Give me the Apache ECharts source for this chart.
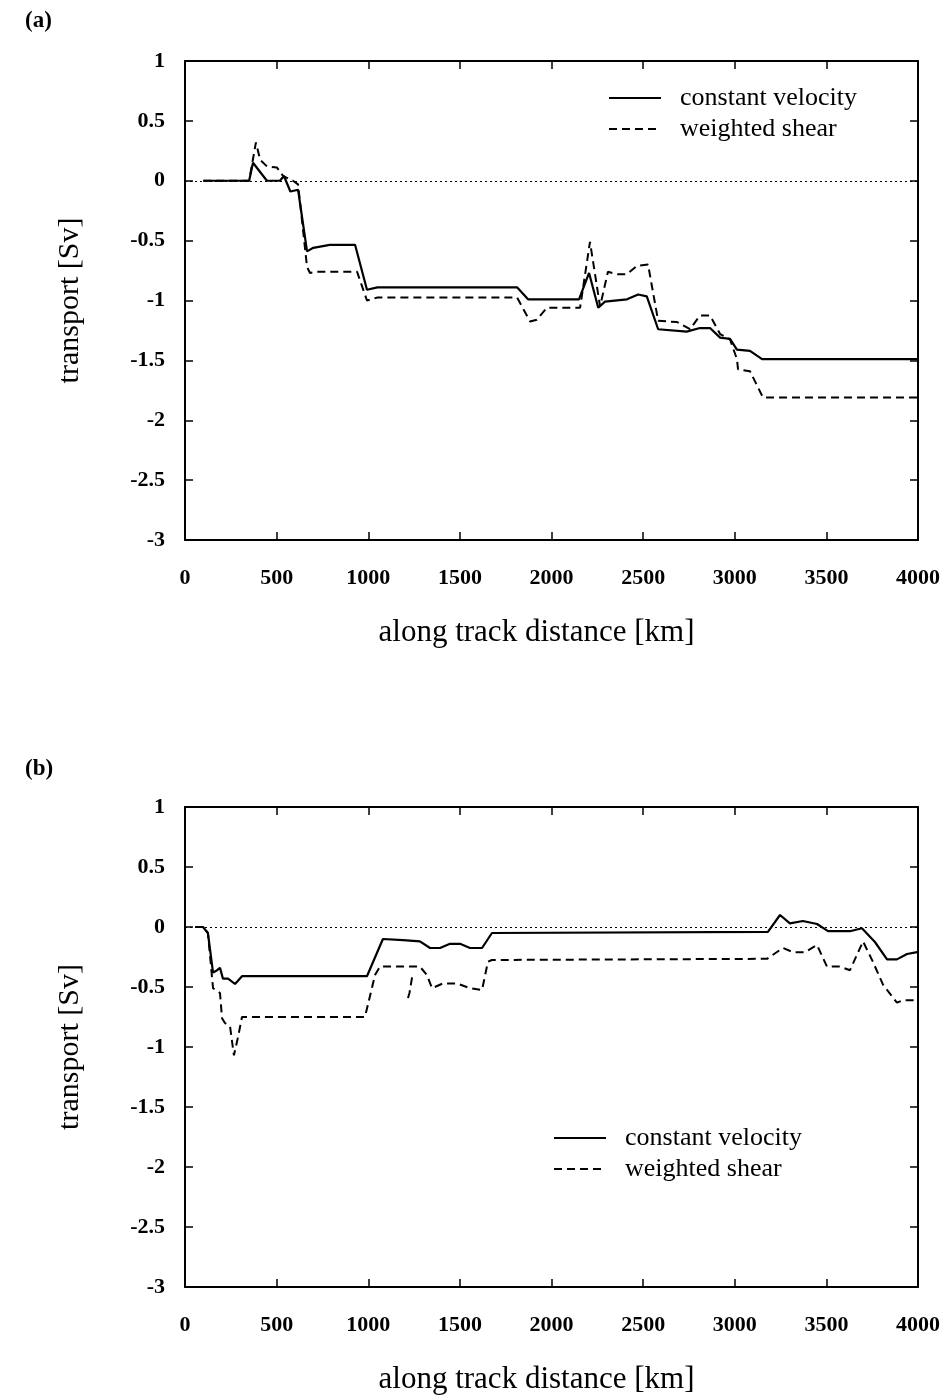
<!DOCTYPE html>
<html><head><meta charset="utf-8">
<script src="https://cdn.jsdelivr.net/npm/echarts@6/dist/echarts.min.js"></script>
<style>html,body{margin:0;padding:0;background:#fff}#c{width:946px;height:1397px}</style>
</head><body><div id="c"></div>
<script>
// ---- data (panel a) ----
const distA_cv = [100, 350, 371, 447, 518, 540, 575, 617, 666, 700, 790, 928, 993, 1050, 1812, 1872, 2150, 2205, 2255, 2292, 2412, 2473, 2520, 2582, 2738, 2810, 2865, 2920, 2974, 3012, 3083, 3149, 4000];
const transA_cv = [0, 0, 0.15, 0.0, 0.0, 0.04, -0.09, -0.075, -0.59, -0.56, -0.535, -0.535, -0.91, -0.89, -0.89, -0.99, -0.99, -0.77, -1.06, -1.01, -0.99, -0.95, -0.965, -1.24, -1.26, -1.23, -1.23, -1.31, -1.32, -1.41, -1.42, -1.49, -1.49];
const distA_ws = [100, 350, 387, 410, 447, 502, 535, 589, 617, 666, 682, 720, 939, 993, 1050, 1812, 1883, 1920, 1975, 2156, 2210, 2265, 2308, 2357, 2412, 2467, 2527, 2582, 2685, 2756, 2810, 2865, 2920, 2974, 3012, 3018, 3083, 3154, 4000];
const transA_ws = [0, 0, 0.32, 0.175, 0.12, 0.11, 0.04, 0.0, -0.03, -0.72, -0.77, -0.76, -0.76, -1.0, -0.975, -0.975, -1.175, -1.16, -1.06, -1.06, -0.51, -1.05, -0.76, -0.78, -0.78, -0.71, -0.70, -1.17, -1.18, -1.24, -1.125, -1.125, -1.28, -1.325, -1.49, -1.575, -1.59, -1.81, -1.81];
// ---- data (panel b) ----
const distB_cv = [55, 98, 125, 153, 175, 191, 207, 235, 273, 311, 993, 1080, 1190, 1282, 1337, 1392, 1446, 1501, 1555, 1621, 1675, 3181, 3247, 3301, 3372, 3449, 3509, 3629, 3694, 3765, 3831, 3885, 3940, 3995];
const transB_cv = [0, 0, -0.05, -0.38, -0.36, -0.34, -0.43, -0.43, -0.475, -0.41, -0.41, -0.10, -0.11, -0.12, -0.175, -0.175, -0.14, -0.14, -0.175, -0.175, -0.05, -0.04, 0.10, 0.03, 0.05, 0.025, -0.035, -0.035, -0.01, -0.125, -0.27, -0.27, -0.225, -0.21];
const distB_ws = [55, 98, 125, 153, 191, 202, 218, 246, 267, 289, 311, 982, 1037, 1064, 1282, 1320, 1348, 1408, 1484, 1555, 1621, 1653, 1675, 3176, 3263, 3318, 3383, 3449, 3503, 3574, 3629, 3700, 3754, 3809, 3885, 3918, 3995];
const transB_ws = [0, 0, -0.05, -0.51, -0.55, -0.76, -0.80, -0.83, -1.07, -0.92, -0.75, -0.75, -0.40, -0.33, -0.33, -0.40, -0.51, -0.47, -0.47, -0.51, -0.525, -0.29, -0.275, -0.265, -0.175, -0.21, -0.21, -0.15, -0.33, -0.33, -0.36, -0.12, -0.29, -0.48, -0.63, -0.61, -0.61];
const distB_frag = [1239, 1225, 1211];
const transB_frag = [-0.42, -0.55, -0.62];
// ---- ticks ----
const xTicks = {min: 0, max: 4000, interval: 500};
const yTicks = {min: -3, max: 1, interval: 0.5};
const seriesNames = ['constant velocity', 'weighted shear'];
const axisTitles = {x: 'along track distance [km]', y: 'transport [Sv]'};
const panelLabels = ['(a)', '(b)'];

const zip = (xs, ys) => xs.map((x, i) => [x, ys[i]]);
const FONT = 'Liberation Serif';
const axLine = {show: true, onZero: false, lineStyle: {color: '#000', width: 2}};
const axTick = {show: true, inside: true, length: 8, lineStyle: {color: '#000', width: 1.5}};
const lbl = {color: '#000', fontFamily: FONT, fontSize: 22, fontWeight: 'bold'};

function xAx(grid, pos, main) {
  return Object.assign({type: 'value', gridIndex: grid, position: pos}, xTicks, {
    axisLine: axLine, axisTick: axTick, splitLine: {show: false},
    axisLabel: main ? Object.assign({margin: 27, formatter: v => String(v)}, lbl) : {show: false},
    name: main ? axisTitles.x : '', nameLocation: 'middle', nameGap: 77,
    nameTextStyle: {color: '#000', fontFamily: FONT, fontSize: 31, padding: [0, 30, 0, 0]}
  });
}
function yAx(grid, pos, main) {
  return Object.assign({type: 'value', gridIndex: grid, position: pos}, yTicks, {
    axisLine: axLine, axisTick: axTick, splitLine: {show: false},
    axisLabel: main ? Object.assign({margin: 20, formatter: v => String(v)}, lbl) : {show: false},
    name: main ? axisTitles.y : '', nameLocation: 'middle', nameGap: 100, nameRotate: 90,
    nameTextStyle: {color: '#000', fontFamily: FONT, fontSize: 30}
  });
}
const zeroLine = {
  silent: true, symbol: ['none', 'none'], label: {show: false},
  lineStyle: {type: [2, 3], color: '#000', width: 1}, data: [{yAxis: 0}], animation: false
};
const solid = {color: '#000', width: 2.2, type: 'solid'};
const dashed = {color: '#000', width: 2, type: [8, 5]};
function ser(name, data, xi, yi, style, extra) {
  return Object.assign({type: 'line', name: name, data: data, xAxisIndex: xi, yAxisIndex: yi,
    symbol: 'none', showSymbol: false, lineStyle: style, itemStyle: {color: '#000'}, animation: false}, extra || {});
}
function legend(left, top) {
  return {orient: 'vertical', left: left, top: top, padding: 0, itemWidth: 52, itemHeight: 14, itemGap: 5,
    data: seriesNames, selectedMode: false, itemStyle: {opacity: 0},
    textStyle: {color: '#000', fontFamily: FONT, fontSize: 26, padding: [0, 0, 0, 14]}};
}

const chart = echarts.init(document.getElementById('c'), null, {renderer: 'canvas'});
chart.setOption({
  backgroundColor: '#fff',
  animation: false,
  title: [
    {text: panelLabels[0], left: 20, top: 5, textStyle: {color: '#000', fontFamily: FONT, fontSize: 23, fontWeight: 'bold'}},
    {text: panelLabels[1], left: 20, top: 753, textStyle: {color: '#000', fontFamily: FONT, fontSize: 23, fontWeight: 'bold'}}
  ],
  legend: [legend(608, 85), legend(553, 1125)],
  grid: [
    {left: 185, top: 61, width: 733, height: 479},
    {left: 185, top: 807, width: 733, height: 480}
  ],
  xAxis: [xAx(0, 'bottom', true), xAx(0, 'top', false), xAx(1, 'bottom', true), xAx(1, 'top', false)],
  yAxis: [yAx(0, 'left', true), yAx(0, 'right', false), yAx(1, 'left', true), yAx(1, 'right', false)],
  series: [
    ser(seriesNames[0], zip(distA_cv, transA_cv), 0, 0, solid, {markLine: zeroLine}),
    ser(seriesNames[1], zip(distA_ws, transA_ws), 0, 0, dashed),
    ser(seriesNames[0], zip(distB_cv, transB_cv), 2, 2, solid, {markLine: zeroLine}),
    ser(seriesNames[1], zip(distB_ws, transB_ws), 2, 2, dashed),
    ser(seriesNames[1], zip(distB_frag, transB_frag), 2, 2, dashed)
  ]
});
</script></body></html>
